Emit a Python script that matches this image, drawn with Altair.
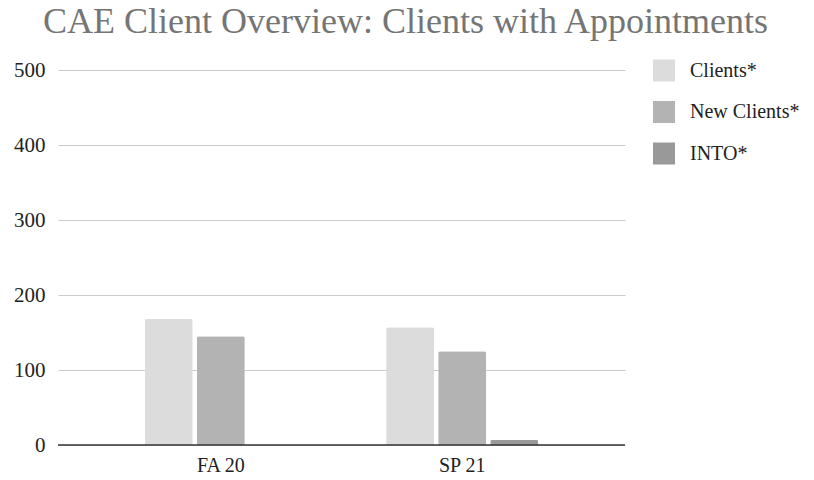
import altair as alt
import pandas as pd

terms = ["FA 20", "FA 20", "FA 20", "SP 21", "SP 21", "SP 21"]
series = ["Clients*", "New Clients*", "INTO*", "Clients*", "New Clients*", "INTO*"]
values = [168, 145, 0, 157, 125, 7]

series_order = ["Clients*", "New Clients*", "INTO*"]
series_colors = ["#dcdcdc", "#b3b3b3", "#999999"]

df = pd.DataFrame({"term": terms, "series": series, "value": values})

FONT = "Liberation Serif"

bars = alt.Chart(df).mark_bar(cornerRadiusTopLeft=2, cornerRadiusTopRight=2).encode(
    x=alt.X("term:N", title=None,
            scale=alt.Scale(paddingInner=0.37, paddingOuter=0.36),
            axis=alt.Axis(labelAngle=0, ticks=False, labelPadding=10, domain=False,
                          labelFont=FONT, labelFontSize=20, labelColor="#222222")),
    xOffset=alt.XOffset("series:N", sort=series_order, scale=alt.Scale(paddingInner=0.08)),
    y=alt.Y("value:Q", title=None,
            scale=alt.Scale(domain=[0, 500]),
            axis=alt.Axis(values=[0, 100, 200, 300, 400, 500], domain=False, ticks=False,
                          gridColor="#cccccc", labelPadding=13, labelFont=FONT,
                          labelFontSize=21, labelColor="#222222")),
    color=alt.Color("series:N", sort=series_order,
                    scale=alt.Scale(domain=series_order, range=series_colors),
                    legend=alt.Legend(title=None, orient="none", legendX=595, legendY=-10.5,
                                      symbolType="square", symbolSize=484, symbolStrokeWidth=0,
                                      labelFont=FONT, labelFontSize=20, labelColor="#222222",
                                      rowPadding=19.5, labelOffset=15, labelLimit=200)),
)

baseline = alt.Chart(pd.DataFrame({"v": [0]})).mark_rule(color="#333333", strokeWidth=1.5).encode(
    y=alt.Y("v:Q"), x=alt.value(0), x2=alt.value(567)
)

chart = alt.layer(bars, baseline).properties(
    width=567, height=375,
    title=alt.TitleParams("CAE Client Overview: Clients with Appointments", font=FONT,
                          fontSize=36, fontWeight="normal", color="#757575",
                          anchor="middle", dx=64, offset=18),
    autosize=alt.AutoSizeParams(type="none"),
    padding={"left": 50, "top": 62, "right": 181, "bottom": 30},
).configure_view(stroke=None)

chart.save("out.html", embed_options={"renderer": "svg", "actions": False})
